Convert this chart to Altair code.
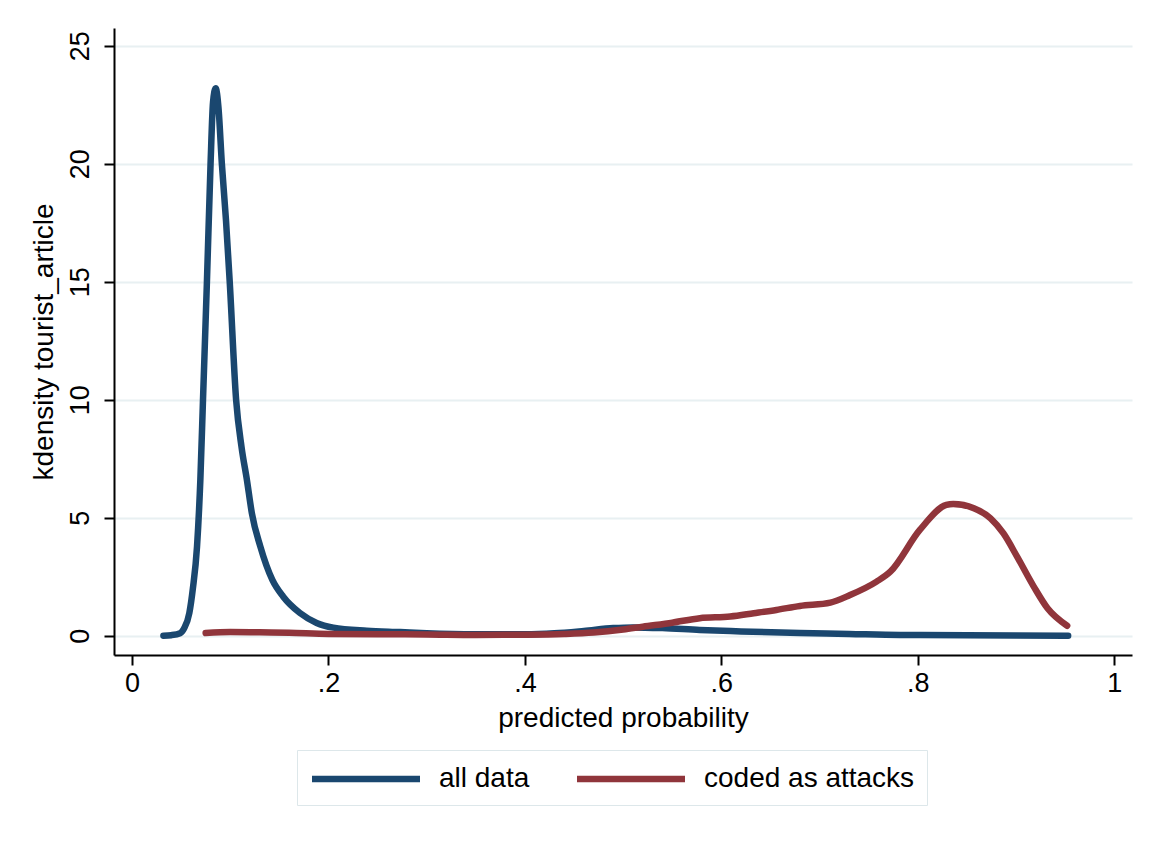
import altair as alt
import pandas as pd

# ---- data ----
series_names = ["all data", "coded as attacks"]
series_colors = ["#1a476f", "#90353b"]

all_x = [0.032, 0.040, 0.049, 0.053, 0.0584, 0.062, 0.0662, 0.0696, 0.0723, 0.0763,
         0.0800, 0.0825, 0.0852, 0.088, 0.0915, 0.0957, 0.0995, 0.106, 0.1115, 0.117,
         0.122, 0.1307, 0.1429, 0.154, 0.171, 0.188, 0.205, 0.239, 0.273, 0.30,
         0.35, 0.40, 0.43, 0.46, 0.49, 0.51, 0.54, 0.578, 0.62, 0.68,
         0.73, 0.782, 0.85, 0.90, 0.953]
all_y = [0.0, 0.02, 0.1, 0.3, 0.96, 2.0, 3.77, 6.6, 10.0, 15.0,
         20.0, 22.6, 23.2, 22.4, 20.0, 17.6, 15.0, 10.0, 8.0, 6.6,
         5.2, 3.77, 2.36, 1.65, 0.96, 0.54, 0.34, 0.21, 0.15, 0.10,
         0.06, 0.06, 0.10, 0.20, 0.32, 0.35, 0.32, 0.24, 0.18, 0.11,
         0.07, 0.03, 0.02, 0.01, 0.0]

att_x = [0.075, 0.10, 0.13, 0.16, 0.20, 0.25, 0.30, 0.35, 0.40, 0.44,
         0.47, 0.50, 0.52, 0.55, 0.578, 0.609, 0.633, 0.656, 0.68, 0.711,
         0.731, 0.758, 0.772, 0.802, 0.829, 0.836, 0.857, 0.874, 0.887, 0.901,
         0.918, 0.932, 0.952]
att_y = [0.11, 0.15, 0.14, 0.12, 0.07, 0.06, 0.05, 0.03, 0.04, 0.07,
         0.13, 0.26, 0.38, 0.55, 0.74, 0.81, 0.95, 1.09, 1.26, 1.40,
         1.72, 2.29, 2.71, 4.48, 5.54, 5.58, 5.40, 4.97, 4.34, 3.35,
         2.08, 1.16, 0.42]

x_tick_values = [0, 0.2, 0.4, 0.6, 0.8, 1]
x_tick_labels = ["0", ".2", ".4", ".6", ".8", "1"]
y_tick_values = [0, 5, 10, 15, 20, 25]

x_title = "predicted probability"
y_title = "kdensity tourist_article"

# ---- table ----
rows = []
for i, (xs, ys) in enumerate([(all_x, all_y), (att_x, att_y)]):
    for j, (a, b) in enumerate(zip(xs, ys)):
        rows.append({"x": a, "y": b, "series": series_names[i], "idx": j})
df = pd.DataFrame(rows)

label_expr = " : ".join(
    f"datum.value == {v} ? '{l}'" for v, l in zip(x_tick_values, x_tick_labels)
) + " : ''"

FONT = "Liberation Sans"

chart = alt.Chart(df).mark_line(
    strokeWidth=6.5, strokeCap="round", strokeJoin="round", interpolate="monotone"
).encode(
    x=alt.X("x:Q",
            scale=alt.Scale(domain=[-0.0183, 1.018], nice=False, zero=False),
            axis=alt.Axis(values=x_tick_values, labelExpr=label_expr, title=x_title,
                          grid=False, labelPadding=5, titlePadding=8)),
    y=alt.Y("y:Q",
            scale=alt.Scale(domain=[-0.82, 25.75], nice=False, zero=False),
            axis=alt.Axis(values=y_tick_values, title=y_title, grid=True,
                          labelAngle=270, labelPadding=10, titlePadding=8)),
    color=alt.Color("series:N",
                    scale=alt.Scale(domain=series_names, range=series_colors),
                    legend=alt.Legend(title=None, orient="none", legendX=183, legendY=722,
                                      direction="horizontal", symbolType="M-4,0H4",
                                      symbolSize=729, symbolStrokeWidth=6.5,
                                      symbolOffset=40,
                                      labelFontSize=28, labelFont=FONT, labelColor="black",
                                      labelOffset=56, labelLimit=600,
                                      columnPadding=34, padding=12,
                                      strokeColor="#dde7ea", fillColor="white")),
    detail="series:N",
    order="idx:Q",
).properties(
    width=1018, height=627,
    background="white",
    autosize=alt.AutoSizeParams(type="none"),
    padding={"left": 114, "top": 28, "right": 30, "bottom": 189},
).configure_view(
    strokeWidth=0
).configure_axis(
    domainColor="black", domainWidth=2, tickColor="black", tickWidth=2, tickSize=10,
    labelFont=FONT, labelFontSize=27, labelColor="black",
    titleFont=FONT, titleFontSize=28, titleColor="black", titleFontWeight="normal",
    gridColor="#e8f0f2", gridWidth=2,
)

chart.save("out.html", embed_options={"renderer": "svg", "actions": False})
